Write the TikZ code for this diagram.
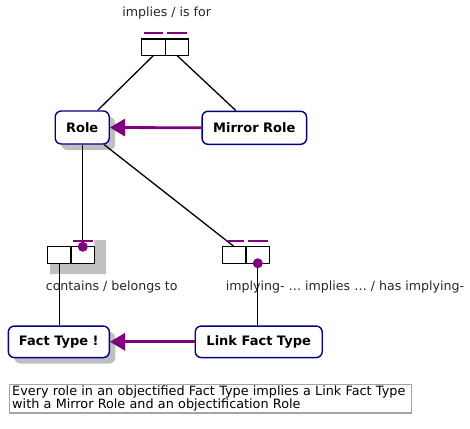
\documentclass[tikz,border=0pt]{standalone}
\usepackage{fontspec}
\setmainfont{DejaVu Sans}
\usepackage{tikz}
\usetikzlibrary{arrows.meta,calc,positioning,shadows}
\definecolor{ormblue}{RGB}{0,0,139}
\definecolor{ormpurple}{RGB}{128,0,128}
\definecolor{ormshadow}{RGB}{192,192,192}
\definecolor{notegray}{RGB}{165,165,155}

\tikzset{
	objtype/.style={draw=ormblue,line width=1.4pt,rounded corners=6pt,fill=white,inner sep=0pt,font=\fontsize{13}{15}\selectfont\bfseries},
	shadowed/.style={drop shadow={shadow xshift=6pt,shadow yshift=-6pt,fill=ormshadow,opacity=1}},
	rolecell/.style={draw,line width=1.2pt,fill=white,inner sep=0pt,outer sep=0pt,minimum width=23.5pt,minimum height=16.5pt},
	ucbar/.style={ormpurple,line width=1.6pt},
	mandot/.style={circle,fill=ormpurple,inner sep=0pt,minimum size=10pt},
	subtype/.style={ormpurple,line width=2.8pt,-{Triangle[length=15pt,width=17pt]}},
	reading/.style={font=\fontsize{12.6}{14}\selectfont,text=black!85},
	note/.style={draw=notegray,line width=1.5pt,fill=white,align=left,text width=396pt,inner xsep=3pt,inner ysep=1.5pt,font=\fontsize{12.8}{13.5}\selectfont},
}

\begin{document}
\begin{tikzpicture}[x=1pt,y=-1pt,line cap=butt,line join=miter]
	\useasboundingbox (0,0) rectangle (470,428);

	% shadow behind the contains fact type
	\fill[ormshadow] (94.3,240) -| (106,274) -| (50,263) -- (94.3,263) -- cycle;

	% object types
	\node[objtype,shadowed,minimum width=54pt,minimum height=33pt] (role) at (82.2,127.5) {Role};
	\node[objtype,minimum width=104.5pt,minimum height=33pt] (mirror) at (254.3,127.8) {Mirror Role};
	\node[objtype,shadowed,minimum width=101pt,minimum height=31.5pt] (facttype) at (58.8,341.8) {Fact Type !};
	\node[objtype,minimum width=127pt,minimum height=31.5pt] (linkft) at (258.7,341.8) {Link Fact Type};

	% fact types
	\node[rolecell] (implies1) at (153.5,47.2) {};
	\node[rolecell,right=0pt of implies1] (implies2) {};
	\node[rolecell] (contains1) at (59.3,255) {};
	\node[rolecell,right=0pt of contains1] (contains2) {};
	\node[rolecell] (implying1) at (234.3,255) {};
	\node[rolecell,right=0pt of implying1] (implying2) {};

	% readings
	\node[reading] (impliesrd) at (166.7,13) {implies / is for};
	\node[reading] (containsrd) at (111.7,286.7) {contains / belongs to};
	\node[reading] (implyingrd) at (345,286.7) {implying- … implies … / has implying-};

	% role players
	\draw[line width=1.3pt] (implies1.south) -- (role.48);
	\draw[line width=1.3pt] (implies2.south) -- (mirror.137);
	\draw[line width=1.3pt] (contains2.north) -- (contains2.north |- role.south);
	\draw[line width=1.3pt] (role.322) -- (implying1.north);
	\draw[line width=1.3pt] (contains1.south) -- (contains1.south |- facttype.north);
	\draw[line width=1.3pt] (implying2.south) -- (implying2.south |- linkft.north);

	% uniqueness constraints
	\draw[ucbar] ([xshift=2pt,yshift=6pt]implies1.north west) -- ([xshift=-2pt,yshift=6pt]implies1.north east);
	\draw[ucbar] ([xshift=2pt,yshift=6pt]implies2.north west) -- ([xshift=-2pt,yshift=6pt]implies2.north east);
	\draw[ucbar] ([xshift=2pt,yshift=6pt]contains2.north west) -- ([xshift=-2pt,yshift=6pt]contains2.north east);
	\draw[ucbar] ([xshift=3pt,yshift=6pt]implying1.north west) -- ([xshift=-2pt,yshift=6pt]implying1.north east);
	\draw[ucbar] ([xshift=2pt,yshift=6pt]implying2.north west) -- ([xshift=-2pt,yshift=6pt]implying2.north east);

	% mandatory roles
	\node[mandot] (containsdot) at (contains2.north) {};
	\node[mandot] (implyingdot) at (implying2.south) {};

	% subtypes
	\draw[subtype] (mirror.west) -- (role.east);
	\draw[subtype] (linkft.west) -- (facttype.east);

	\node[note,anchor=north west] (explain) at (8.5,383.5) {Every role in an objectified Fact Type implies a Link Fact Type\\with a Mirror Role and an objectification Role};
\end{tikzpicture}
\end{document}
